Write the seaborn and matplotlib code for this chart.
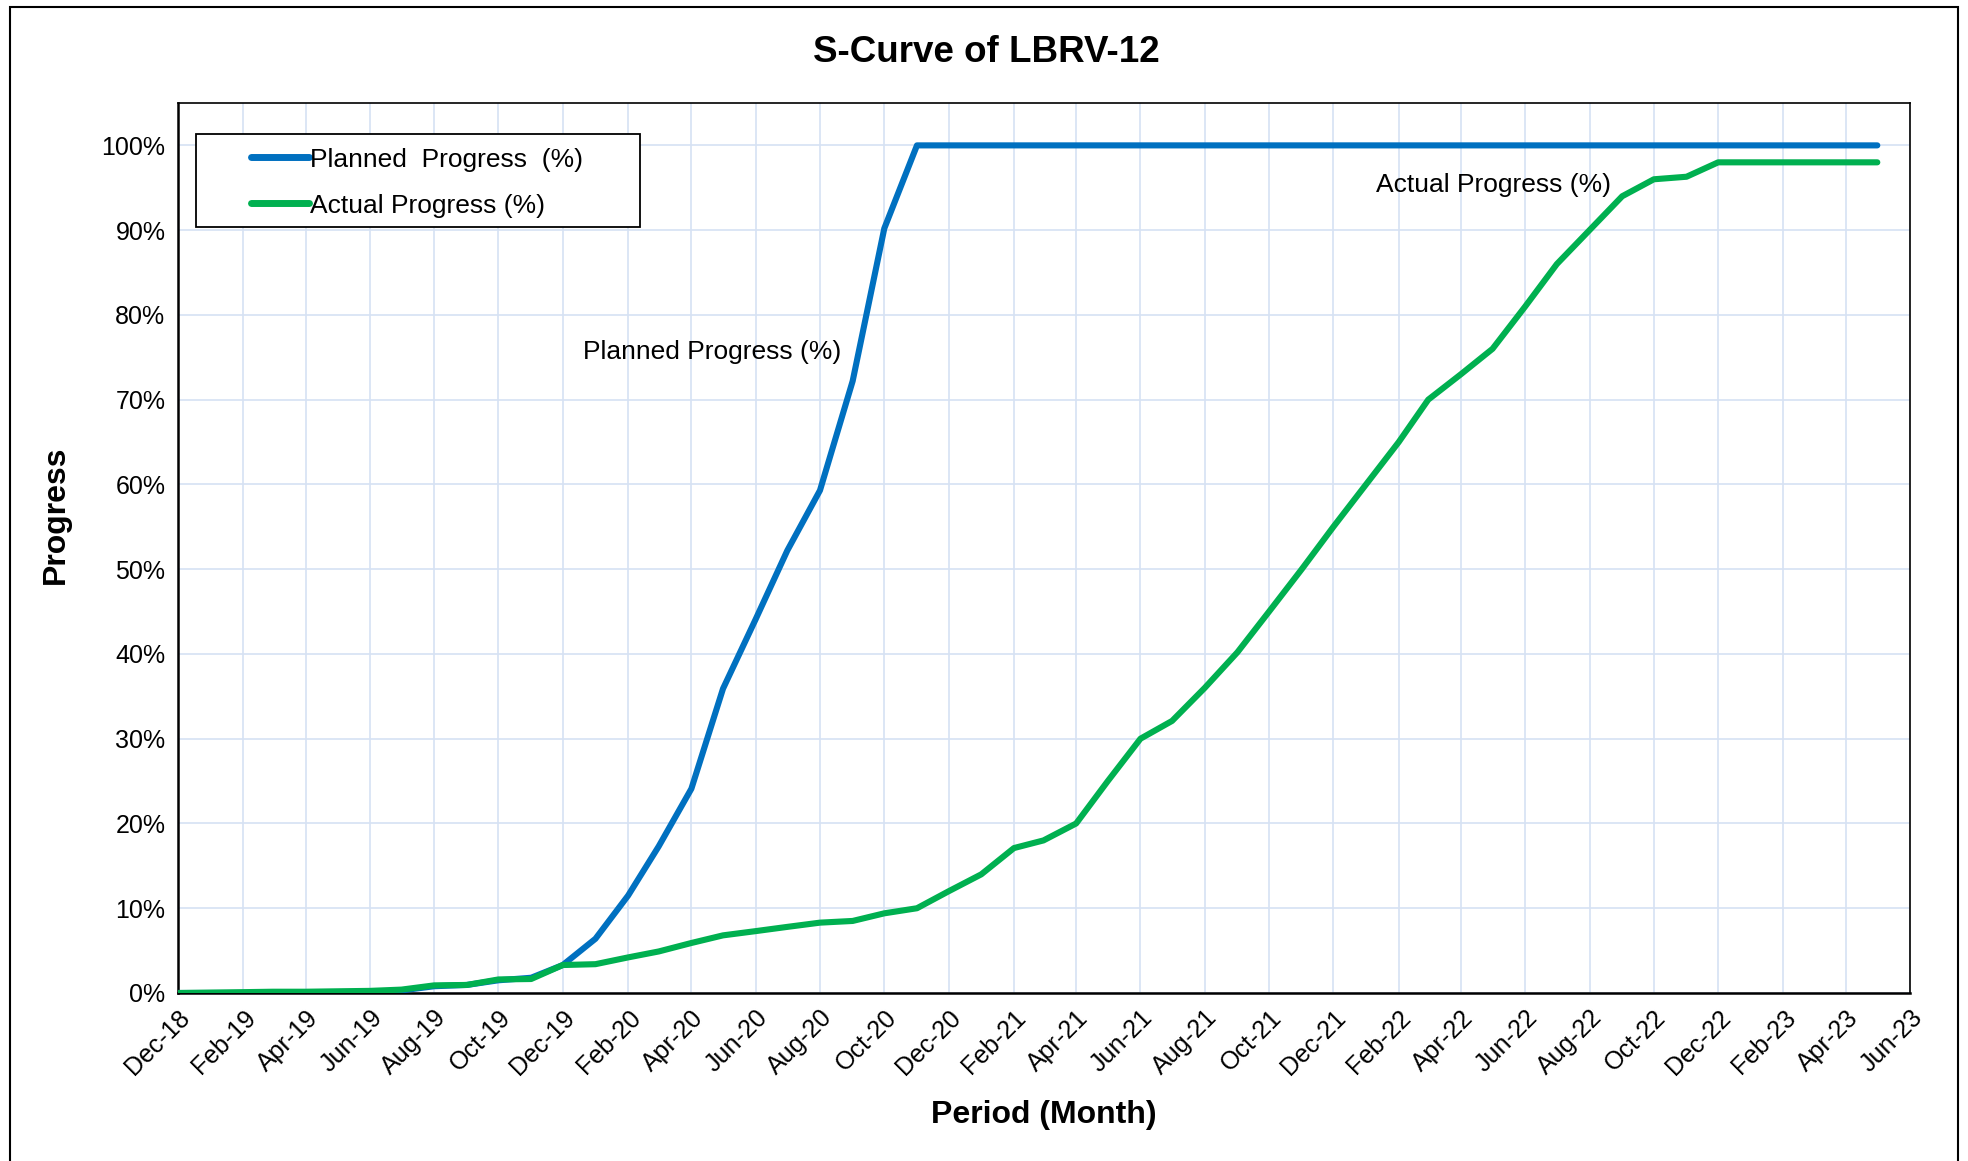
import numpy as np
import pandas as pd
import matplotlib
matplotlib.use("Agg")
import matplotlib.pyplot as plt
import matplotlib.dates as mdates
from matplotlib.lines import Line2D
from matplotlib.patches import Rectangle
from matplotlib.ticker import PercentFormatter, MultipleLocator
import seaborn as sns

# Monthly reporting periods, Dec-18 .. May-23
months = pd.date_range("2018-12-01", "2023-05-01", freq="MS")

planned_label = "Planned  Progress  (%)"
actual_label = "Actual Progress (%)"

# Cumulative planned progress (%)
planned = [
    0, 0, 0, 0, 0, 0, 0, 0.3, 0.8, 0.95, 1.5, 1.8,
    3.3, 6.4, 11.5, 17.3, 24.1, 35.9, 44.1, 52.2, 59.3, 72.2, 90.2, 100,
    100, 100, 100, 100, 100, 100, 100, 100, 100, 100, 100, 100,
    100, 100, 100, 100, 100, 100, 100, 100, 100, 100, 100, 100,
    100, 100, 100, 100, 100, 100,
]

# Cumulative actual progress (%)
actual = [
    0, 0.05, 0.1, 0.15, 0.15, 0.2, 0.25, 0.4, 0.9, 0.95, 1.6, 1.65,
    3.3, 3.4, 4.2, 4.9, 5.9, 6.8, 7.3, 7.8, 8.3, 8.5, 9.4, 10.0,
    12.0, 14.0, 17.1, 18.0, 20.0, 25.0, 30.0, 32.1, 36.0, 40.2, 45.0, 50.0,
    55.0, 60.0, 65.0, 70.0, 73.0, 76.0, 81.0, 86.0, 90.0, 94.0, 96.0, 96.3,
    98.0, 98.0, 98.0, 98.0, 98.0, 98.0,
]

colors = {planned_label: "#0070C0", actual_label: "#00B050"}

df = pd.DataFrame({
    "Month": np.concatenate([months, months]),
    "Progress": planned + actual,
    "Series": [planned_label] * len(months) + [actual_label] * len(months),
})

sns.set_style("white")
plt.rcParams["font.family"] = ["Liberation Sans", "DejaVu Sans"]
plt.rcParams["text.color"] = "black"
plt.rcParams["axes.labelcolor"] = "black"
plt.rcParams["xtick.color"] = "black"
plt.rcParams["ytick.color"] = "black"

W, H = 1968, 1161
fig = plt.figure(figsize=(W / 100, H / 100), dpi=100)
ax = fig.add_axes([178 / W, 1 - 993 / H, (1910 - 178) / W, (993 - 103) / H])

sns.lineplot(
    data=df, x="Month", y="Progress", hue="Series",
    hue_order=[planned_label, actual_label], palette=colors,
    linewidth=4.4, errorbar=None, legend=False, ax=ax,
    solid_capstyle="round", zorder=3,
)

ax.set_xlim(months[0], pd.Timestamp("2023-06-01"))
ax.set_ylim(0, 105)
ax.yaxis.set_major_locator(MultipleLocator(10))
ax.yaxis.set_major_formatter(PercentFormatter(100, decimals=0))
ax.xaxis.set_major_locator(mdates.MonthLocator(bymonth=[2, 4, 6, 8, 10, 12]))
ax.xaxis.set_minor_locator(mdates.MonthLocator())
ax.xaxis.set_major_formatter(mdates.DateFormatter("%b-%y"))

ax.set_axisbelow(True)
ax.grid(True, which="major", color="#D6E2F3", linewidth=1.2)
ax.tick_params(axis="both", which="major", direction="out", length=5.5,
               width=1.3, color="black", labelsize=18, labelcolor="black")
ax.tick_params(axis="x", which="minor", direction="out", length=4,
               width=1.3, color="black")
for lab in ax.get_xticklabels():
    lab.set_rotation(45)
    lab.set_ha("right")
    lab.set_rotation_mode("anchor")
ax.set_xlabel("")
ax.set_ylabel("")

for side in ["left", "bottom"]:
    ax.spines[side].set_linewidth(1.8)
for side in ["top", "right"]:
    ax.spines[side].set_linewidth(1.2)
for sp in ax.spines.values():
    sp.set_color("black")
    sp.set_visible(True)

# Legend box
ax.add_patch(Rectangle((0.0104, 0.861), 0.2566, 0.104, transform=ax.transAxes,
                       facecolor="white", edgecolor="black", linewidth=1.3,
                       zorder=4))
handles = [Line2D([], [], color=colors[k], linewidth=5, solid_capstyle="round")
           for k in (planned_label, actual_label)]
leg = ax.legend(handles, [planned_label, actual_label], loc="upper left",
                bbox_to_anchor=(0.042, 0.950), frameon=False, fontsize=19,
                handlelength=2.2, handletextpad=0.05, labelspacing=0.84,
                borderpad=0, borderaxespad=0)
leg.set_zorder(5)
for t in leg.get_texts():
    t.set_color("black")

# Series labels on the curves
ax.text(mdates.date2num(pd.Timestamp("2019-12-20")), 75.6, "Planned Progress (%)",
        fontsize=19, ha="left", va="center", zorder=4)
ax.text(mdates.date2num(pd.Timestamp("2022-01-10")), 95.3, "Actual Progress (%)",
        fontsize=19, ha="left", va="center", zorder=4)

fig.text(986 / W, 1 - 62.5 / H, "S-Curve of LBRV-12", ha="center", va="baseline",
         fontsize=26.5, fontweight="bold")
fig.text(56 / W, 1 - 515 / H, "Progress", rotation=90, ha="center", va="center",
         fontsize=23, fontweight="bold")
fig.text(1044 / W, 1 - 1115 / H, "Period (Month)", ha="center", va="center",
         fontsize=23, fontweight="bold")

# Chart area border
fig.add_artist(Rectangle((10 / W, -0.02), (1958 - 10) / W, 1.02 - 6.5 / H,
                         transform=fig.transFigure, fill=False,
                         edgecolor="black", linewidth=1.5))

fig.savefig("out.png", dpi=100)
